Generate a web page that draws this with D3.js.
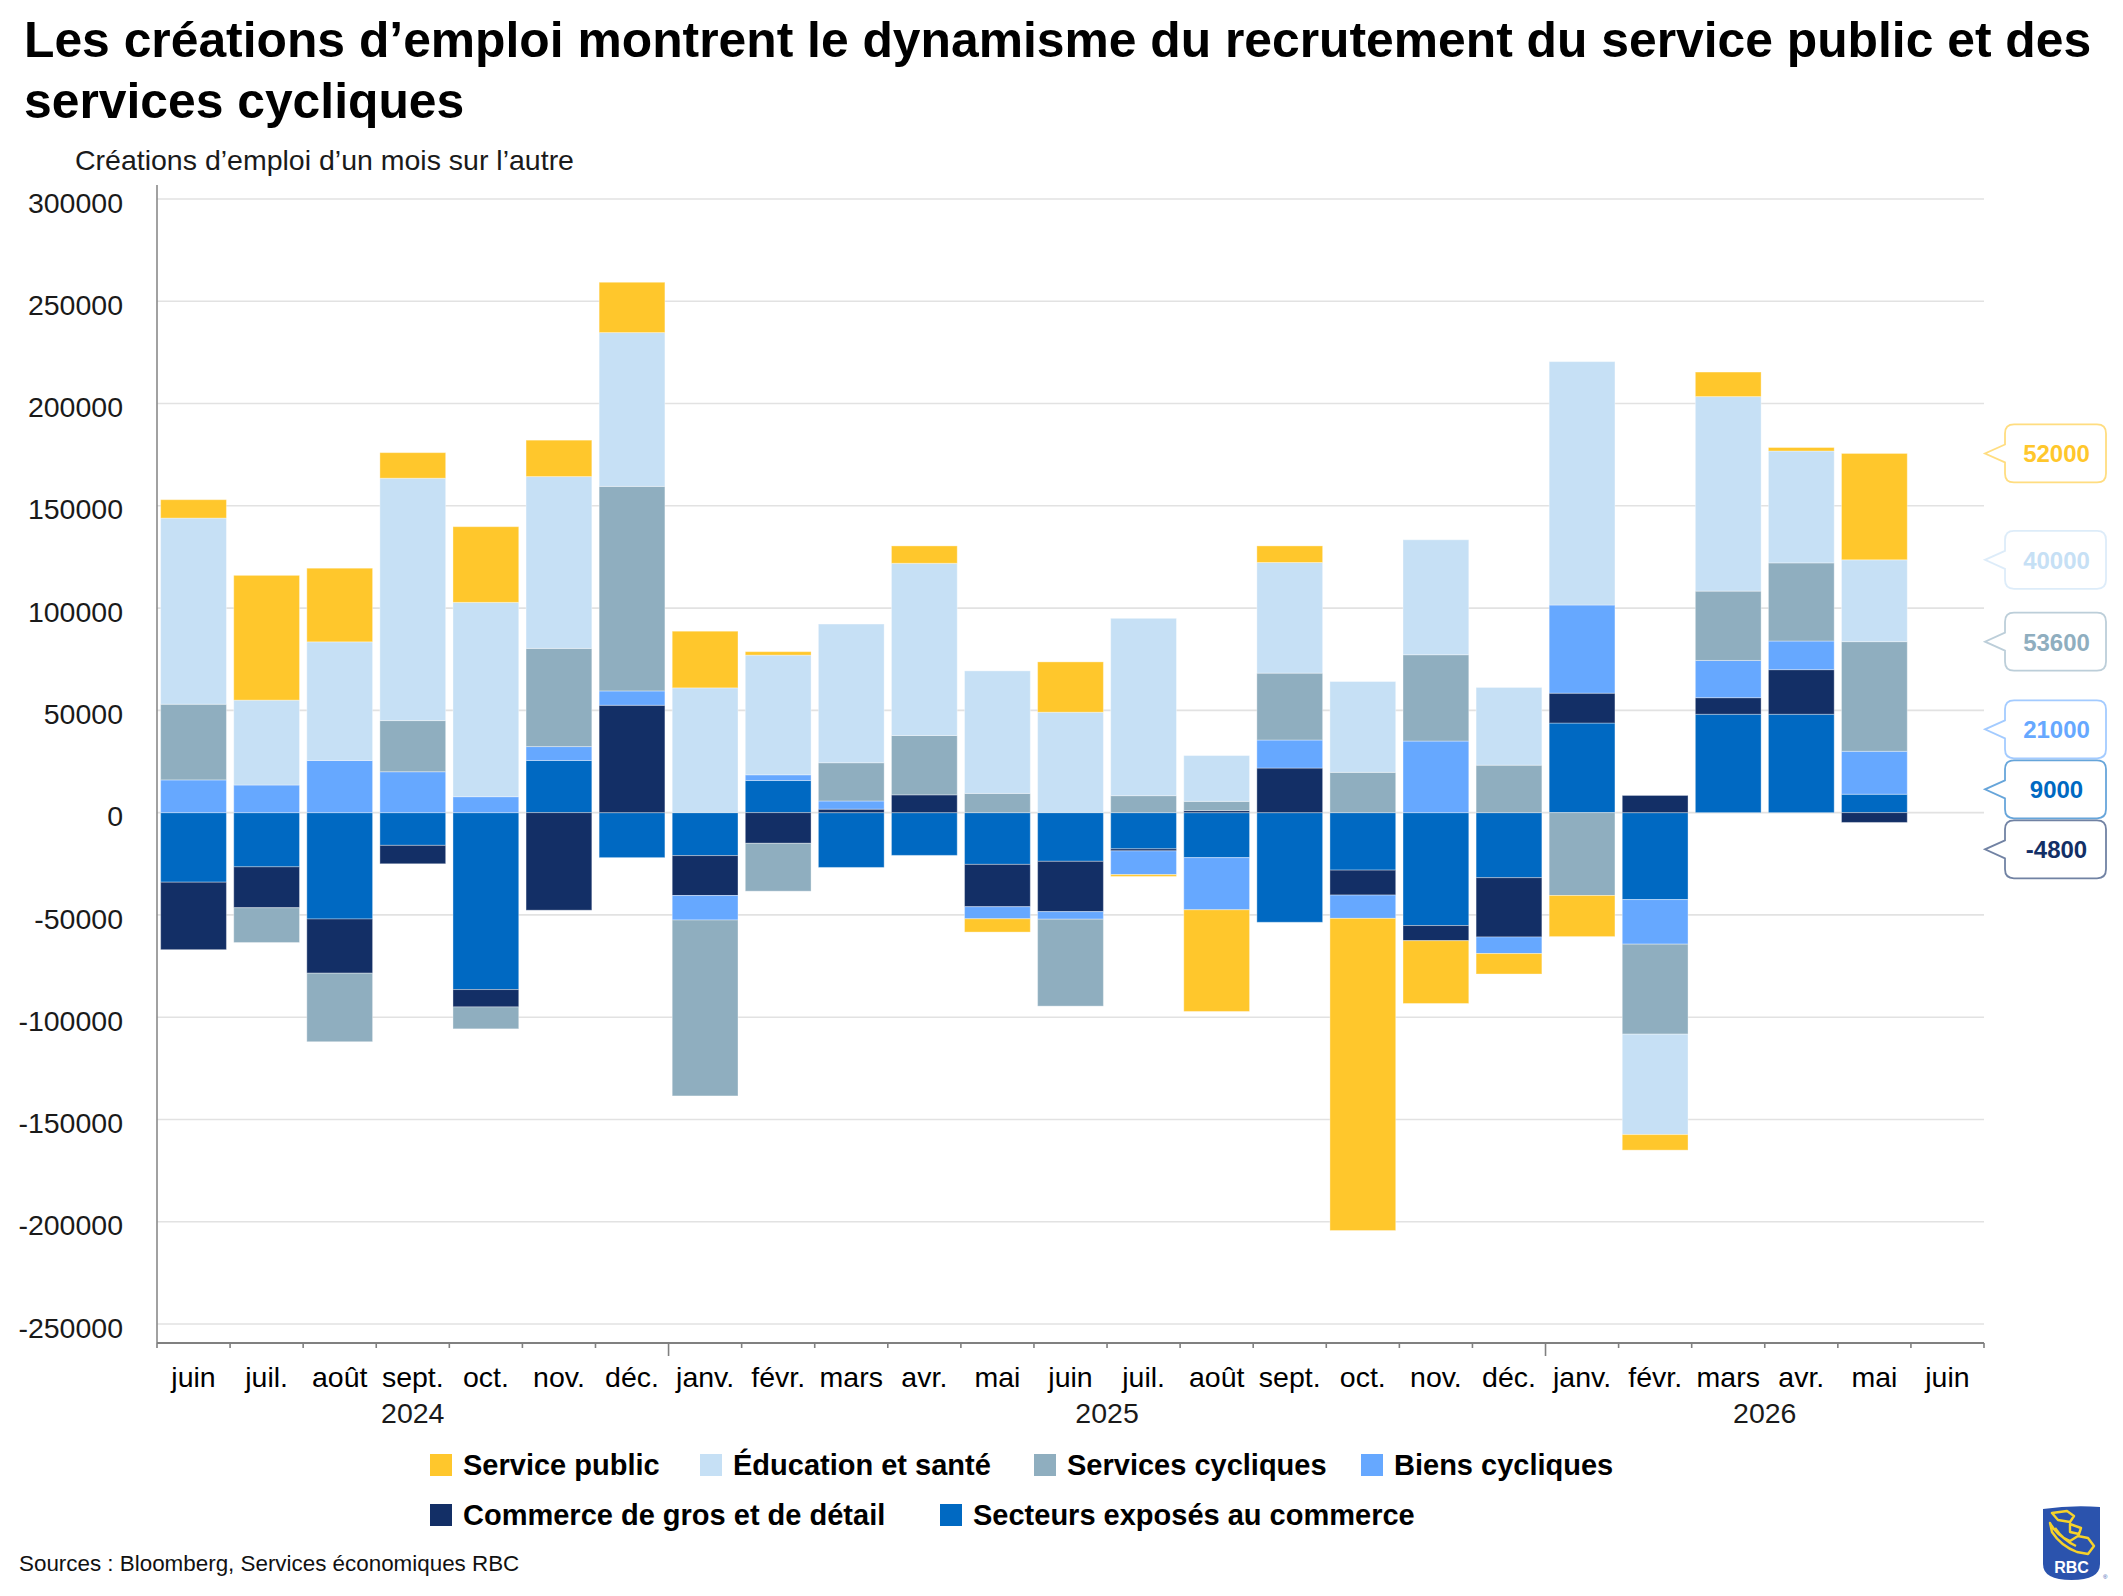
<!DOCTYPE html>
<html>
<head>
<meta charset="utf-8">
<script src="https://cdn.jsdelivr.net/npm/d3@7"></script>
<style>
  body { margin: 0; background: #fff; }
  text { font-family: "Liberation Sans", Arial, sans-serif; }
</style>
</head>
<body>
<div id="container"></div>
<script>
/* DATA */
const months = ["juin", "juil.", "août", "sept.", "oct.", "nov.", "déc.",
  "janv.", "févr.", "mars", "avr.", "mai", "juin", "juil.", "août", "sept.", "oct.", "nov.", "déc.",
  "janv.", "févr.", "mars", "avr.", "mai", "juin"]
const yearLabels = ["2024", "2025", "2026"]
const yearStarts = [0, 7, 19]   // index of first month of each year

// juin 2024 -> mai 2026
const secteurs = [-34000, -26500, -52000, -16000, -86500, 25500, -22000, -21000, 15700, -26800, -20900, -25300,
  -23800, -17700, -22000, -53600, -28100, -55200, -31800, 43800, -42500, 48100, 48100, 9000]
const commerce = [-33000, -20000, -26500, -9000, -8500, -47700, 52500, -19500, -15000, 1700, 8700, -20700,
  -24600, -1000, 1000, 21800, -12200, -7400, -29000, 14600, 8400, 8100, 21800, -4800]
const biens = [16000, 13500, 25500, 20000, 7800, 6800, 7000, -12000, 2800, 4000, 0, -5900,
  -3700, -11600, -25500, 13700, -11400, 35000, -8100, 43100, -21800, 18200, 14000, 21000]
const servicesCycliques = [37000, -17000, -33500, 25000, -10700, 48000, 100000, -86000, -23400, 18700, 29000, 9400,
  -42500, 8300, 4500, 32700, 19700, 42200, 23200, -40500, -44000, 33900, 38200, 53600]
const education = [91000, 41500, 58000, 118500, 95000, 84000, 75200, 61000, 58500, 67800, 84200, 59900,
  49100, 86700, 22400, 54100, 44400, 56200, 38000, 119000, -49100, 95100, 54700, 40000]
const servicePublic = [9000, 61000, 36000, 12500, 37000, 17800, 24600, 27700, 1700, 0, 8500, -6500,
  24600, -900, -49700, 8100, -152600, -30700, -10000, -20100, -7600, 12000, 1700, 52000]

const yTicks = [300000, 250000, 200000, 150000, 100000, 50000, 0, -50000, -100000, -150000, -200000, -250000]

// stacking order: first key sits next to zero
const keys = ["secteurs", "commerce", "biens", "servicesCycliques", "education", "servicePublic"]
const names = {
  secteurs: "Secteurs exposés au commerce",
  commerce: "Commerce de gros et de détail",
  biens: "Biens cycliques",
  servicesCycliques: "Services cycliques",
  education: "Éducation et santé",
  servicePublic: "Service public"
}
const colors = {
  secteurs: "#0069C2",
  commerce: "#132F66",
  biens: "#66A8FF",
  servicesCycliques: "#8FAEBF",
  education: "#C6E0F5",
  servicePublic: "#FFC72C"
}
const series = { secteurs, commerce, biens, servicesCycliques, education, servicePublic }

/* LAYOUT */
const width = 2123, height = 1596
const plot = { left: 157, right: 1984, top: 185, bottom: 1343 }
const font = "\"Liberation Sans\", Arial, sans-serif"

const rows = secteurs.map((_, i) => {
  const r = { i }
  keys.forEach(k => { r[k] = series[k][i] })
  return r
})

/* SCALES */
const xScale = d3.scaleBand()
  .domain(d3.range(months.length))
  .range([plot.left, plot.right])
  .paddingInner(0.1)
  .paddingOuter(0.05)

const yScale = d3.scaleLinear()
  .domain([-250000, 300000])
  .range([1324, 199])

/* SVG */
const svg = d3.select("#container")
  .append("svg")
  .attr("width", width)
  .attr("height", height)
  .style("display", "block")

svg.append("rect").attr("width", width).attr("height", height).attr("fill", "#fff")

// title
svg.append("text").attr("x", 24).attr("y", 57)
  .attr("font-size", 49.8).attr("font-weight", "bold")
  .text("Les créations d’emploi montrent le dynamisme du recrutement du service public et des")
svg.append("text").attr("x", 24).attr("y", 118)
  .attr("font-size", 49.8).attr("font-weight", "bold")
  .text("services cycliques")

svg.append("text").attr("x", 75).attr("y", 170)
  .attr("font-size", 28.5).attr("fill", "#1a1a1a")
  .text("Créations d’emploi d’un mois sur l’autre")

// gridlines
svg.append("g")
  .selectAll("line")
  .data(yTicks)
  .join("line")
  .attr("x1", plot.left).attr("x2", plot.right)
  .attr("y1", d => yScale(d)).attr("y2", d => yScale(d))
  .attr("stroke", "#e2e2e2")
  .attr("stroke-width", 1.6)

// y axis
const yAxisGroup = svg.append("g")
  .attr("transform", `translate(${plot.left}, 0)`)
  .call(d3.axisLeft(yScale).tickValues(yTicks).tickSize(0).tickPadding(34).tickFormat(d => String(d)))
yAxisGroup.select(".domain").remove()
yAxisGroup.selectAll("text")
  .attr("font-family", font)
  .attr("font-size", 28.5)
  .attr("fill", "#1a1a1a")
  .attr("dy", "0.46em")

/* BARS */
const stacked = d3.stack()
  .keys(keys)
  .offset(d3.stackOffsetDiverging)(rows)

svg.append("g")
  .selectAll("g")
  .data(stacked)
  .join("g")
  .attr("fill", d => colors[d.key])
  .selectAll("rect")
  .data(d => d)
  .join("rect")
  .attr("x", d => xScale(d.data.i))
  .attr("width", xScale.bandwidth())
  .attr("y", d => yScale(d[1]))
  .attr("height", d => yScale(d[0]) - yScale(d[1]))
  .attr("stroke", "#fff")
  .attr("stroke-opacity", 0.35)
  .attr("stroke-width", 1)

// axis lines
svg.append("line")
  .attr("x1", plot.left).attr("x2", plot.left)
  .attr("y1", plot.top).attr("y2", plot.bottom)
  .attr("stroke", "#8a8a8a").attr("stroke-width", 1.6)

svg.append("line")
  .attr("x1", plot.left).attr("x2", plot.right)
  .attr("y1", plot.bottom).attr("y2", plot.bottom)
  .attr("stroke", "#808080").attr("stroke-width", 2.2)

// ticks on band boundaries, longer at year starts
svg.append("g")
  .selectAll("line")
  .data(d3.range(months.length + 1))
  .join("line")
  .attr("x1", i => plot.left + i * xScale.step())
  .attr("x2", i => plot.left + i * xScale.step())
  .attr("y1", plot.bottom)
  .attr("y2", i => plot.bottom + (yearStarts.includes(i) && i > 0 ? 13 : 5))
  .attr("stroke", "#808080").attr("stroke-width", 1.6)

// month labels
const xAxisGroup = svg.append("g")
  .attr("transform", `translate(0, ${plot.bottom})`)
  .call(d3.axisBottom(xScale).tickSize(0).tickFormat(i => months[i]))
xAxisGroup.select(".domain").remove()
xAxisGroup.selectAll("text")
  .attr("font-family", font)
  .attr("font-size", 28.5)
  .attr("fill", "#000")
  .attr("y", 44)
  .attr("dy", 0)

// year labels centred under their months
svg.append("g")
  .selectAll("text")
  .data(yearLabels)
  .join("text")
  .attr("x", (d, i) => {
    const first = yearStarts[i]
    const last = i < yearStarts.length - 1 ? yearStarts[i + 1] : months.length
    return plot.left + (first + last) / 2 * xScale.step()
  })
  .attr("y", 1423)
  .attr("text-anchor", "middle")
  .attr("font-size", 28.5)
  .attr("fill", "#1a1a1a")
  .text(d => d)

/* CALLOUT LABELS FOR LAST MONTH */
const lastCol = rows.length - 1
const gap = 60
let labels = stacked.map(s => {
  const d = s[lastCol]
  const v = series[s.key][lastCol]
  return { key: s.key, value: v, y0: yScale(v >= 0 ? d[1] : d[0]) }
}).sort((a, b) => a.y0 - b.y0)

// push overlapping labels apart, keeping each group centred on its anchors
let clusters = labels.map(l => ({ items: [l], mean: l.y0 }))
let merged = true
while (merged) {
  merged = false
  for (let c = 0; c < clusters.length - 1; c++) {
    const a = clusters[c], b = clusters[c + 1]
    const aEnd = a.mean + (a.items.length - 1) * gap / 2
    const bStart = b.mean - (b.items.length - 1) * gap / 2
    if (bStart - aEnd < gap) {
      const items = a.items.concat(b.items)
      clusters.splice(c, 2, { items, mean: d3.mean(items, d => d.y0) })
      merged = true
      break
    }
  }
}
clusters.forEach(c => {
  c.items.forEach((l, k) => { l.y = c.mean + (k - (c.items.length - 1) / 2) * gap })
})

const bx0 = 2005, bx1 = 2106, bh = 58, r = 9, tipX = 1985
const callouts = svg.append("g")
  .selectAll("g")
  .data(labels)
  .join("g")

callouts.append("path")
  .attr("d", d => {
    const t = d.y - bh / 2, b = d.y + bh / 2
    return `M${bx0 + r},${t} H${bx1 - r} Q${bx1},${t} ${bx1},${t + r} V${b - r} Q${bx1},${b} ${bx1 - r},${b}` +
      ` H${bx0 + r} Q${bx0},${b} ${bx0},${b - r} V${d.y + 9} L${tipX},${d.y} L${bx0},${d.y - 9} V${t + r} Q${bx0},${t} ${bx0 + r},${t} Z`
  })
  .attr("fill", "#fff")
  .attr("stroke", d => colors[d.key])
  .attr("stroke-opacity", 0.6)
  .attr("stroke-width", 1.8)

callouts.append("text")
  .attr("x", (bx0 + bx1) / 2 + 1)
  .attr("y", d => d.y + 9)
  .attr("text-anchor", "middle")
  .attr("font-size", 24)
  .attr("font-weight", "bold")
  .attr("fill", d => colors[d.key])
  .text(d => d.value)

/* LEGEND */
const legendRows = [
  ["servicePublic", "education", "servicesCycliques", "biens"],
  ["commerce", "secteurs"]
]
const legendX = [[430, 700, 1034, 1361], [430, 940]]
const legendY = [1465, 1515]

legendRows.forEach((row, ri) => {
  const g = svg.append("g")
  row.forEach((k, j) => {
    g.append("rect")
      .attr("x", legendX[ri][j]).attr("y", legendY[ri] - 11)
      .attr("width", 22).attr("height", 22)
      .attr("fill", colors[k])
    g.append("text")
      .attr("x", legendX[ri][j] + 33).attr("y", legendY[ri] + 10)
      .attr("font-size", 29).attr("font-weight", "bold")
      .text(names[k])
  })
})

// source
svg.append("text").attr("x", 19).attr("y", 1571)
  .attr("font-size", 22.4).attr("fill", "#111")
  .text("Sources : Bloomberg, Services économiques RBC")

/* LOGO */
const logo = svg.append("g").attr("transform", "translate(2043,1506)")
logo.append("path")
  .attr("d", "M0,3 Q28,-1 57,1 V58 Q57,74 28.5,74 Q0,74 0,58 Z")
  .attr("fill", "#2b53ad")
logo.append("path")
  .attr("d", "M9,7 L24,5 L31,10 L27,16 L15,14 Z M7,17 Q14,30 27,35 L35,30 L45,32 L51,40 L45,48 L34,46 Q18,40 9,26 Z M27,18 L38,22 L36,28 L27,26 Z M12,22 Q20,34 33,40")
  .attr("fill", "none")
  .attr("stroke", "#f6d22a")
  .attr("stroke-width", 2.4)
  .attr("stroke-linejoin", "round")
logo.append("text")
  .attr("x", 28.5).attr("y", 67)
  .attr("text-anchor", "middle")
  .attr("font-size", 16).attr("font-weight", "bold")
  .attr("fill", "#fff")
  .text("RBC")
logo.append("text")
  .attr("x", 60).attr("y", 73)
  .attr("font-size", 6)
  .attr("fill", "#2b53ad")
  .text("®")
</script>
</body>
</html>
